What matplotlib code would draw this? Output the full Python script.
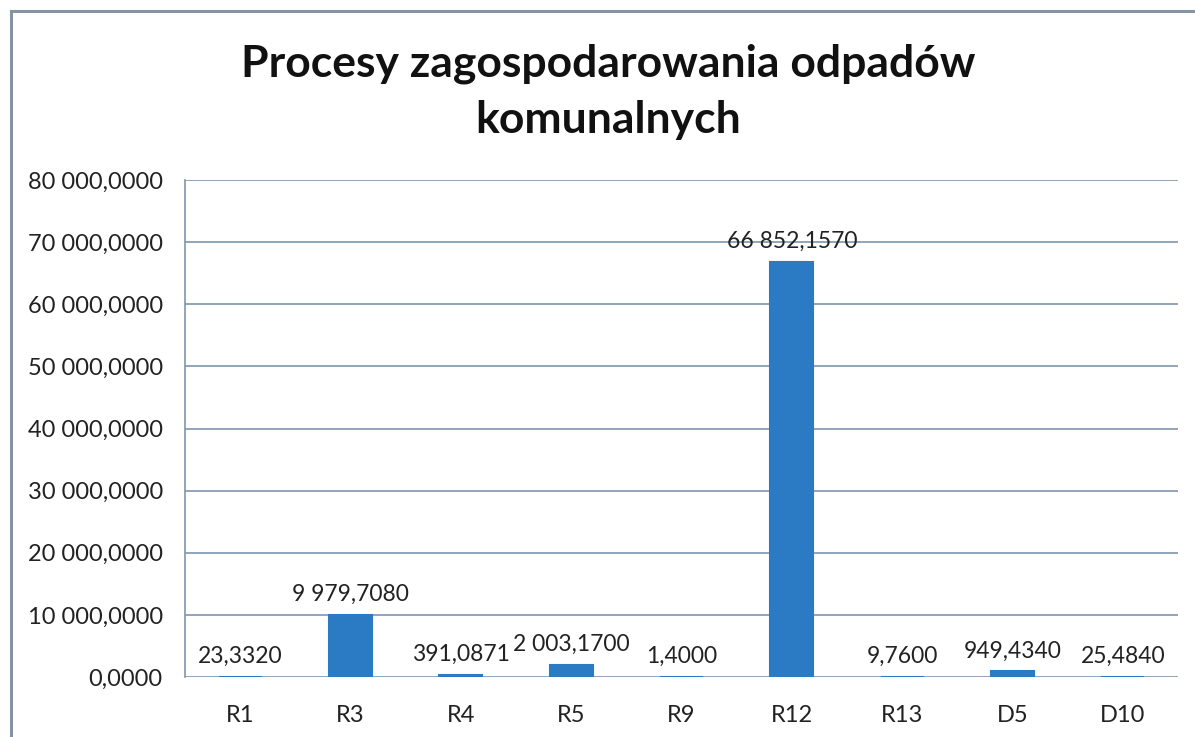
import matplotlib.pyplot as plt
import matplotlib.patches as mpatches
from matplotlib.ticker import FuncFormatter, MultipleLocator

# dane
kategorie = ['R1', 'R3', 'R4', 'R5', 'R9', 'R12', 'R13', 'D5', 'D10']
wartosci = [23.3320, 9979.7080, 391.0871, 2003.1700, 1.4000, 66852.1570, 9.7600, 949.4340, 25.4840]
tytul = 'Procesy zagospodarowania odpadów\nkomunalnych'


def fmt_pl(v, pos=None):
    s = f'{v:,.4f}'
    return s.replace(',', ' ').replace('.', ',')


plt.rcParams['font.family'] = ['Lato', 'DejaVu Sans']

fig = plt.figure(figsize=(11.95, 7.37), dpi=100)
ax = fig.add_axes([185 / 1195, 1 - 677 / 737, (1178 - 185) / 1195, (677 - 180) / 737])

x = range(len(kategorie))
bars = ax.bar(x, wartosci, width=0.39, color='#2a7bc4', edgecolor='#2a7bc4', linewidth=1.5, zorder=3)

for xi, v in zip(x, wartosci):
    ax.annotate(fmt_pl(v), (xi, v), xytext=(0, 7), textcoords='offset points',
                ha='center', va='bottom', fontsize=16.5, color='#222222')

ax.set_xlim(-0.5, len(kategorie) - 0.5)
ax.set_ylim(0, 80000)
ax.yaxis.set_major_locator(MultipleLocator(10000))
ax.yaxis.set_major_formatter(FuncFormatter(fmt_pl))
ax.set_xticks(list(x))
ax.set_xticklabels(kategorie)
ax.tick_params(axis='y', length=0, pad=16, labelsize=17, labelcolor='#222222')
ax.tick_params(axis='x', length=0, pad=20, labelsize=17, labelcolor='#222222')
ax.grid(axis='y', color='#7f96ad', linewidth=1.2, zorder=0)

for side in ['top', 'right', 'bottom']:
    ax.spines[side].set_visible(False)
ax.spines['left'].set_color('#7f96ad')
ax.spines['left'].set_linewidth(1.2)

# ramka wykresu
fig.patches.append(mpatches.Rectangle((11 / 1195, -0.1), 1.2, 1 - 11 / 737 + 0.1,
                                      transform=fig.transFigure, fill=False,
                                      edgecolor='#8594a0', linewidth=2.2))

fig.text(608 / 1195, 1 - 92 / 737, tytul, ha='center', va='center', fontsize=32,
         fontweight='bold', color='#111111', linespacing=1.5)

fig.savefig('out.png', dpi=100)
